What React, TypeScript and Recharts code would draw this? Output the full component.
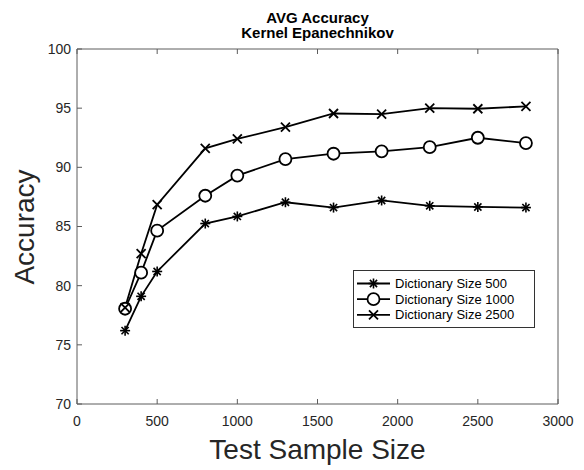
import React from 'react';
import { LineChart, Line, XAxis, YAxis, Legend, Customized } from 'recharts';

const testSizes = [300, 400, 500, 800, 1000, 1300, 1600, 1900, 2200, 2500, 2800];
const dict500 = [76.2, 79.1, 81.2, 85.25, 85.85, 87.05, 86.6, 87.2, 86.75, 86.65, 86.6];
const dict1000 = [78.05, 81.1, 84.65, 87.6, 89.3, 90.7, 91.15, 91.35, 91.7, 92.5, 92.05];
const dict2500 = [78.15, 82.7, 86.85, 91.6, 92.4, 93.4, 94.55, 94.5, 95.0, 94.95, 95.15];
const xTicks = [0, 500, 1000, 1500, 2000, 2500, 3000];
const yTicks = [70, 75, 80, 85, 90, 95, 100];
const seriesNames = ['Dictionary Size 500', 'Dictionary Size 1000', 'Dictionary Size 2500'];
const seriesKeys = ['d500', 'd1000', 'd2500'];

const data = testSizes.map((x, i) => ({ x, d500: dict500[i], d1000: dict1000[i], d2500: dict2500[i] }));

const FONT = '"Liberation Sans", Arial, Helvetica, sans-serif';
const FRAME = '#5c5c5c';
const TEXT = '#262626';
const LW = 1.8;

function marker(kind: number, cx: number, cy: number, key?: any) {
  if (kind === 0) {
    const r = 5;
    const d = 3.6;
    return (
      <g key={key} stroke="#000" strokeWidth={1.6}>
        <line x1={cx - r} y1={cy} x2={cx + r} y2={cy} />
        <line x1={cx} y1={cy - r} x2={cx} y2={cy + r} />
        <line x1={cx - d} y1={cy - d} x2={cx + d} y2={cy + d} />
        <line x1={cx - d} y1={cy + d} x2={cx + d} y2={cy - d} />
      </g>
    );
  }
  if (kind === 1) {
    return <circle key={key} cx={cx} cy={cy} r={6} fill="#fff" stroke="#000" strokeWidth={LW} />;
  }
  const h = 4.5;
  return (
    <g key={key} stroke="#000" strokeWidth={LW}>
      <line x1={cx - h} y1={cy - h} x2={cx + h} y2={cy + h} />
      <line x1={cx - h} y1={cy + h} x2={cx + h} y2={cy - h} />
    </g>
  );
}

const BottomTick = (p: any) => (
  <g>
    <line x1={p.x} y1={p.y} x2={p.x} y2={p.y - 5} stroke={FRAME} />
    <text x={p.x} y={p.y + 22} textAnchor="middle" fontSize={14} fill={TEXT} fontFamily={FONT}>
      {p.payload.value}
    </text>
  </g>
);
const TopTick = (p: any) => (
  <line x1={p.x} y1={p.y} x2={p.x} y2={p.y + 5} stroke={FRAME} />
);
const LeftTick = (p: any) => (
  <g>
    <line x1={p.x} y1={p.y} x2={p.x + 5} y2={p.y} stroke={FRAME} />
    <text x={p.x - 6} y={p.y} dy="0.35em" textAnchor="end" fontSize={14} fill={TEXT} fontFamily={FONT}>
      {p.payload.value}
    </text>
  </g>
);
const RightTick = (p: any) => (
  <line x1={p.x} y1={p.y} x2={p.x - 5} y2={p.y} stroke={FRAME} />
);

const Annotations = () => (
  <g fontFamily={FONT}>
    <text x={317.5} y={22.5} textAnchor="middle" fontSize={15} fontWeight="bold" fill="#000">
      AVG Accuracy
    </text>
    <text x={317.5} y={38} textAnchor="middle" fontSize={15} fontWeight="bold" fill="#000">
      Kernel Epanechnikov
    </text>
    <text x={317.5} y={459} textAnchor="middle" fontSize={28} fill={TEXT}>
      Test Sample Size
    </text>
    <text transform="translate(33.5,227) rotate(-90)" textAnchor="middle" fontSize={28} fill={TEXT}>
      Accuracy
    </text>
  </g>
);

const LegendBox = () => (
  <svg width={182} height={58} style={{ display: 'block' }}>
    <rect x={0.5} y={0.5} width={181} height={57} fill="#fff" stroke="#333" />
    {seriesNames.map((name, i) => {
      const cy = 13.5 + i * 15.7;
      return (
        <g key={name}>
          <line x1={4} x2={37} y1={cy} y2={cy} stroke="#000" strokeWidth={LW} />
          {marker(i, 20.5, cy)}
          <text x={42} y={cy} dy="0.35em" fontSize={13} fill="#000" fontFamily={FONT}>
            {name}
          </text>
        </g>
      );
    })}
  </svg>
);

export default function App() {
  return (
    <div style={{ position: 'absolute', left: 0, top: 0, width: 584, height: 470, background: '#fff', fontFamily: FONT }}>
      <LineChart width={584} height={470} data={data} margin={{ top: 19, right: 0, bottom: 0, left: 0 }}>
        <XAxis
          dataKey="x"
          type="number"
          domain={[0, 3000]}
          ticks={xTicks}
          interval={0}
          height={66}
          tickSize={0}
          tickMargin={0}
          tickLine={false}
          axisLine={{ stroke: FRAME }}
          tick={<BottomTick />}
        />
        <XAxis
          xAxisId="top"
          orientation="top"
          dataKey="x"
          type="number"
          domain={[0, 3000]}
          ticks={xTicks}
          interval={0}
          height={30}
          tickSize={0}
          tickMargin={0}
          tickLine={false}
          axisLine={{ stroke: FRAME }}
          tick={<TopTick />}
        />
        <YAxis
          type="number"
          domain={[70, 100]}
          ticks={yTicks}
          interval={0}
          width={77}
          tickSize={0}
          tickMargin={0}
          tickLine={false}
          axisLine={{ stroke: FRAME }}
          tick={<LeftTick />}
        />
        <YAxis
          yAxisId="right"
          orientation="right"
          type="number"
          domain={[70, 100]}
          ticks={yTicks}
          interval={0}
          width={26}
          tickSize={0}
          tickMargin={0}
          tickLine={false}
          axisLine={{ stroke: FRAME }}
          tick={<RightTick />}
        />
        {seriesKeys.map((k, i) => (
          <Line
            key={k}
            dataKey={k}
            name={seriesNames[i]}
            stroke="#000"
            strokeWidth={LW}
            isAnimationActive={false}
            activeDot={false}
            dot={(p: any) => marker(i, p.cx, p.cy, `${k}-${p.index}`)}
          />
        ))}
        <Legend
          layout="vertical"
          align="center"
          verticalAlign="middle"
          content={<LegendBox />}
          wrapperStyle={{ position: 'absolute', left: 353, top: 270, width: 182, height: 58 }}
        />
        <Customized component={Annotations} />
      </LineChart>
    </div>
  );
}
